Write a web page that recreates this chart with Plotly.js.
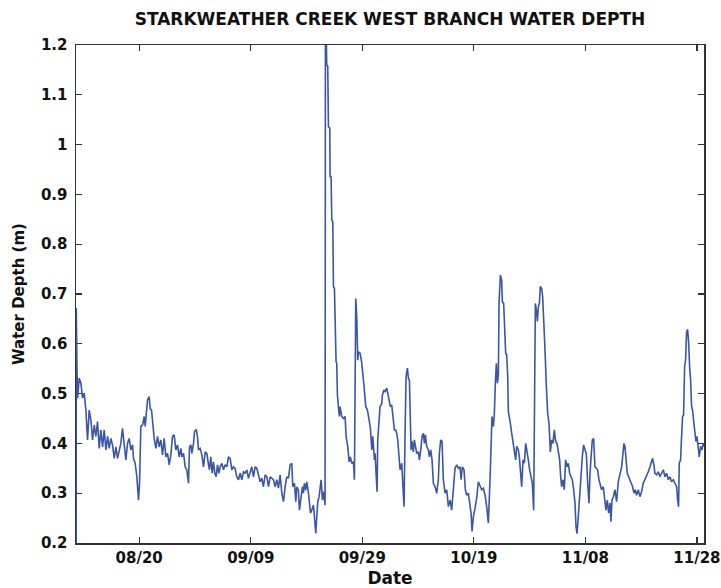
<!DOCTYPE html>
<html>
<head>
<meta charset="utf-8">
<script src="https://cdn.plot.ly/plotly-3.0.1.min.js"></script>
<style>html,body{margin:0;padding:0;background:#fff;}#chart{width:721px;height:588px;}</style>
</head>
<body>
<div id="chart"></div>
<script>
// Days relative to 2013-08-20 00:00
const DAYS = [
-11.30,-11.28,-11.22,-11.17,-11.05,-10.75,-10.45,-10.16,-9.86,-9.56,-9.26,-8.96,-8.66,-8.36,-8.06,-7.77,-7.47,-7.17,-6.87,-6.57,-6.27,-5.97,-5.67,-5.38,-5.08,-4.78,-4.48,-4.18,-3.88,-3.58,-3.29,-2.99,-2.69,-2.39,-2.09,-1.79,-1.49,-1.19,-1.02,-0.72,-0.42,-0.30,-0.12,0.06,0.30,0.60,0.90,1.08,1.26,1.49,1.79,1.97,2.21,2.45,2.69,2.99,3.29,3.59,3.88,4.18,4.48,4.78,5.08,5.38,5.68,5.97,6.27,6.57,6.87,7.17,7.47,7.65,7.95,8.24,8.54,8.84,9.02,9.26,9.44,9.74,9.92,10.22,10.45,10.63,10.93,11.23,11.53,11.83,12.13,12.43,12.60,12.84,13.08,13.32,13.56,13.80,14.04,14.28,14.52,14.82,15.11,15.41,15.71,16.01,16.31,16.61,16.91,17.20,17.50,17.80,18.10,18.40,18.70,19.00,19.30,19.59,19.89,20.19,20.49,20.79,21.09,21.39,21.69,21.98,22.28,22.58,22.88,23.18,23.48,23.78,24.07,24.37,24.67,24.97,25.27,25.57,25.87,26.17,26.46,26.76,27.06,27.36,27.54,27.84,28.08,28.26,28.55,28.73,28.97,29.27,29.45,29.63,29.87,30.05,30.35,30.53,30.71,30.94,31.24,31.42,31.66,31.84,32.02,32.26,32.44,32.62,32.86,33.10,33.33,33.39,33.55,33.63,33.81,33.93,34.17,34.23,34.41,34.53,34.71,34.83,35.01,35.13,35.25,35.30,35.42,35.54,35.72,35.90,36.02,36.32,36.62,36.92,37.10,37.40,37.64,37.87,38.11,38.41,38.59,38.65,38.83,39.01,39.19,39.31,39.61,39.91,40.08,40.32,40.62,40.92,41.22,41.46,41.70,41.88,42.18,42.30,42.47,42.65,42.77,43.01,43.19,43.49,43.61,43.85,44.09,44.39,44.57,44.80,45.04,45.28,45.58,45.76,46.00,46.18,46.36,46.60,46.77,47.07,47.25,47.49,47.67,47.85,48.09,48.27,48.45,48.57,48.75,48.92,49.16,49.34,49.58,49.76,50.06,50.24,50.48,50.72,50.96,51.14,51.31,51.55,51.85,52.03,52.27,52.51,52.75,53.05,53.35,53.64,53.82,54.06,54.30,54.54,54.84,55.14,55.44,55.74,56.03,56.33,56.63,56.93,57.23,57.53,57.71,57.95,58.24,58.48,58.72,59.02,59.32,59.50,59.68,59.92,60.22,60.51,60.81,61.11,61.41,61.71,62.01,62.31,62.61,62.90,63.08,63.26,63.50,63.68,63.86,64.04,64.22,64.40,64.52,64.76,64.99,65.11,65.35,65.47,65.71,65.89,66.07,66.19,66.37,66.55,66.79,67.08,67.26,67.50,67.68,67.98,68.16,68.46,68.58,68.82,69.06,69.30,69.53,69.77,70.01,70.25,70.49,70.73,70.85,71.03,71.21,71.39,71.57,71.75,71.92,72.16,72.34,72.52,72.76,73.00,73.24,73.48,73.72,73.96,74.19,74.43,74.67,74.91,75.15,75.39,75.57,75.75,75.99,76.22,76.46,76.70,76.94,77.18,77.42,77.66,77.90,78.14,78.32,78.50,78.73,78.97,79.21,79.45,79.69,79.93,80.17,80.41,80.65,80.83,81.00,81.24,81.48,81.72,81.96,82.20,82.44,82.68,82.91,83.21,83.51,83.69,83.93,84.17,84.41,84.59,84.77,85.01,85.30,85.60,85.90,86.08,86.32,86.50,86.68,86.92,87.10,87.28,87.51,87.75,87.99,88.23,88.47,88.71,88.95,89.19,89.49,89.78,90.08,90.38,90.68,90.98,91.28,91.58,91.87,92.05,92.29,92.47,92.77,93.07,93.37,93.67,93.97,94.27,94.56,94.86,95.16,95.46,95.76,96.06,96.36,96.54,96.71,96.83,97.07,97.25,97.43,97.61,97.79,97.97,98.15,98.33,98.51,98.69,98.87,99.05,99.22,99.46,99.64,99.82,100.00,100.24,100.42,100.66,100.90,101.14,101.37
];
const DEPTH = [
0.15,0.672,0.58,0.564,0.491,0.531,0.521,0.491,0.501,0.467,0.407,0.467,0.447,0.407,0.437,0.414,0.444,0.390,0.427,0.393,0.427,0.387,0.414,0.390,0.410,0.397,0.370,0.393,0.370,0.387,0.400,0.430,0.397,0.367,0.400,0.410,0.387,0.397,0.370,0.360,0.333,0.300,0.286,0.320,0.434,0.437,0.454,0.434,0.467,0.487,0.494,0.470,0.467,0.434,0.410,0.390,0.414,0.393,0.407,0.377,0.410,0.373,0.380,0.357,0.377,0.414,0.417,0.387,0.397,0.373,0.390,0.373,0.380,0.353,0.347,0.320,0.393,0.397,0.380,0.400,0.424,0.428,0.414,0.387,0.390,0.377,0.353,0.383,0.380,0.357,0.347,0.373,0.340,0.363,0.340,0.333,0.357,0.340,0.353,0.360,0.347,0.357,0.353,0.373,0.370,0.347,0.353,0.350,0.333,0.327,0.340,0.327,0.343,0.340,0.347,0.330,0.340,0.353,0.333,0.353,0.350,0.333,0.323,0.330,0.313,0.337,0.333,0.313,0.333,0.330,0.327,0.313,0.327,0.310,0.337,0.300,0.283,0.313,0.333,0.330,0.357,0.360,0.313,0.320,0.283,0.313,0.306,0.266,0.293,0.313,0.300,0.320,0.306,0.323,0.300,0.280,0.260,0.266,0.276,0.253,0.219,0.253,0.283,0.293,0.320,0.327,0.286,0.303,0.276,1.21,1.21,1.160,1.157,1.036,1.033,0.936,0.936,0.849,0.845,0.715,0.711,0.631,0.628,0.564,0.561,0.497,0.474,0.454,0.474,0.454,0.450,0.454,0.414,0.393,0.363,0.373,0.360,0.363,0.327,0.474,0.691,0.654,0.567,0.584,0.581,0.561,0.534,0.514,0.474,0.467,0.447,0.430,0.387,0.414,0.367,0.380,0.340,0.303,0.407,0.440,0.474,0.480,0.497,0.507,0.504,0.511,0.501,0.491,0.474,0.477,0.450,0.427,0.427,0.420,0.407,0.367,0.347,0.360,0.313,0.273,0.420,0.534,0.551,0.531,0.527,0.440,0.387,0.404,0.383,0.407,0.394,0.380,0.383,0.367,0.387,0.414,0.420,0.400,0.417,0.394,0.387,0.373,0.387,0.367,0.320,0.313,0.300,0.327,0.380,0.407,0.404,0.327,0.300,0.307,0.273,0.286,0.266,0.307,0.350,0.357,0.350,0.353,0.327,0.353,0.347,0.307,0.296,0.300,0.273,0.260,0.223,0.253,0.270,0.290,0.323,0.313,0.307,0.310,0.296,0.273,0.240,0.327,0.420,0.454,0.434,0.460,0.521,0.561,0.521,0.537,0.681,0.738,0.728,0.685,0.681,0.634,0.581,0.578,0.537,0.464,0.454,0.440,0.420,0.394,0.387,0.367,0.394,0.387,0.373,0.340,0.313,0.367,0.360,0.400,0.387,0.367,0.347,0.333,0.320,0.266,0.464,0.681,0.668,0.645,0.675,0.681,0.715,0.711,0.695,0.655,0.588,0.517,0.460,0.440,0.383,0.407,0.400,0.427,0.404,0.400,0.387,0.367,0.333,0.313,0.327,0.307,0.367,0.353,0.360,0.340,0.333,0.327,0.307,0.280,0.233,0.219,0.253,0.286,0.333,0.373,0.397,0.387,0.380,0.320,0.280,0.340,0.367,0.407,0.410,0.353,0.350,0.347,0.327,0.313,0.307,0.313,0.286,0.266,0.286,0.260,0.280,0.243,0.286,0.293,0.307,0.283,0.323,0.333,0.347,0.353,0.373,0.400,0.394,0.367,0.340,0.333,0.327,0.320,0.313,0.300,0.307,0.296,0.307,0.293,0.303,0.320,0.327,0.333,0.343,0.353,0.367,0.370,0.357,0.340,0.337,0.343,0.333,0.340,0.347,0.333,0.340,0.327,0.333,0.323,0.327,0.320,0.313,0.286,0.273,0.360,0.367,0.414,0.454,0.457,0.554,0.568,0.624,0.629,0.604,0.554,0.527,0.474,0.467,0.440,0.420,0.404,0.414,0.380,0.373,0.394,0.387,0.400,0.394
];
const X_TICK_DATES = ['2013-08-20','2013-09-09','2013-09-29','2013-10-19','2013-11-08','2013-11-28'];
const X_TICK_LABELS = ['08/20','09/09','09/29','10/19','11/08','11/28'];
const Y_TICK_VALUES = [0.2,0.3,0.4,0.5,0.6,0.7,0.8,0.9,1.0,1.1,1.2];
const Y_TICK_LABELS = ['0.2','0.3','0.4','0.5','0.6','0.7','0.8','0.9','1','1.1','1.2'];
const BASE_DATE = Date.UTC(2013,7,20);
const X_RANGE_DAYS = [-11.33, 101.27];

function toDate(d){
  return new Date(BASE_DATE + d*86400000).toISOString().replace('T',' ').replace('Z','');
}

const FONT = 'DejaVu Sans, Liberation Sans, Arial, sans-serif';
const trace = {
  x: DAYS.map(toDate),
  y: DEPTH,
  type: 'scatter',
  mode: 'lines',
  line: {color: '#3a56a5', width: 1.6},
  hoverinfo: 'skip'
};
const layout = {
  width: 721, height: 588,
  margin: {l: 76, r: 17, t: 45, b: 45},
  paper_bgcolor: '#ffffff', plot_bgcolor: '#ffffff',
  showlegend: false,
  title: {
    text: 'STARKWEATHER CREEK WEST BRANCH WATER DEPTH',
    font: {family: FONT, size: 17, color: '#111', weight: 700},
    x: 0.5, xanchor: 'center', y: 0.968, yanchor: 'middle', xref: 'paper', yref: 'container'
  },
  xaxis: {
    type: 'date',
    range: X_RANGE_DAYS.map(toDate),
    tickmode: 'array', tickvals: X_TICK_DATES, ticktext: X_TICK_LABELS,
    ticks: 'inside', ticklen: 6, tickwidth: 1.3, tickcolor: '#333',
    showline: true, linecolor: '#333', linewidth: 1.5, mirror: 'ticks',
    showgrid: false, zeroline: false,
    tickfont: {family: FONT, size: 15, color: '#111', weight: 700},
    title: {text: 'Date', font: {family: FONT, size: 17, color: '#111', weight: 700}, standoff: 6},
    layer: 'below traces'
  },
  yaxis: {
    range: [0.2, 1.2],
    tickmode: 'array', tickvals: Y_TICK_VALUES, ticktext: Y_TICK_LABELS,
    ticks: 'inside', ticklen: 6, tickwidth: 1.3, tickcolor: '#333',
    showline: true, linecolor: '#333', linewidth: 1.5, mirror: 'ticks',
    showgrid: false, zeroline: false,
    tickfont: {family: FONT, size: 15, color: '#111', weight: 700},
    ticklabelstandoff: 4,
    title: {text: 'Water Depth (m)', font: {family: FONT, size: 15, color: '#111', weight: 700}, standoff: 12},
    layer: 'below traces'
  }
};
Plotly.newPlot('chart', [trace], layout, {displayModeBar: false, staticPlot: true});
</script>
</body>
</html>
